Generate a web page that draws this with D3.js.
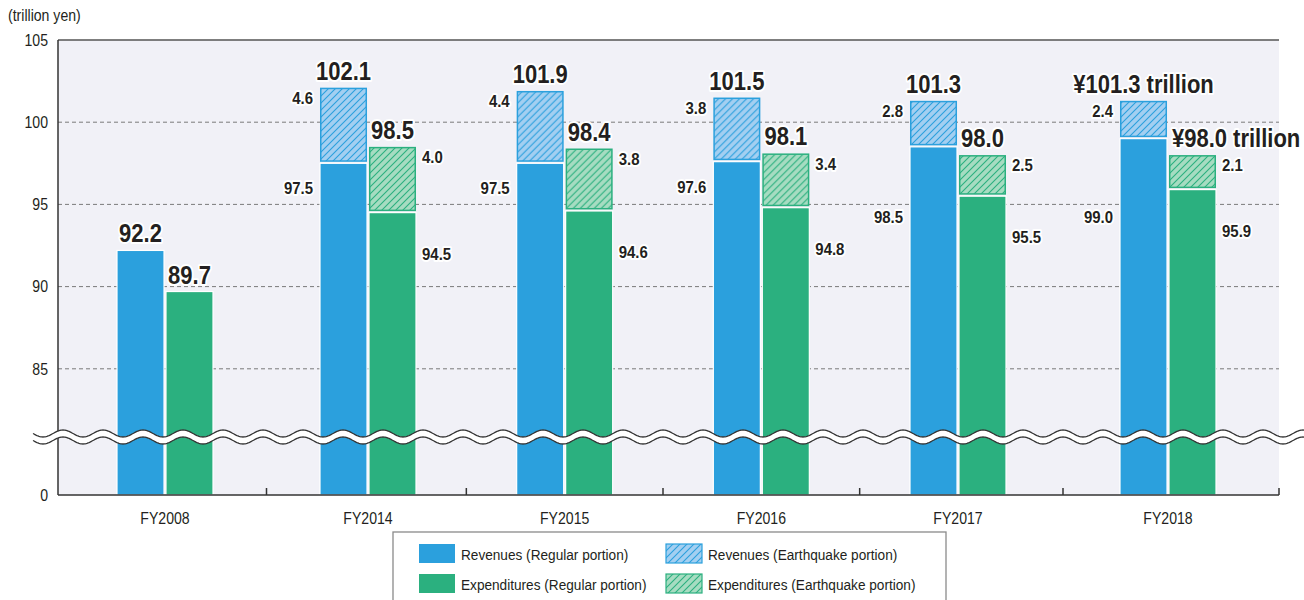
<!DOCTYPE html>
<html>
<head>
<meta charset="utf-8">
<script src="https://cdn.jsdelivr.net/npm/d3@7"></script>
<style>
    body { margin: 0; background: #ffffff; }
    #chart { width: 1304px; height: 600px; }
    text { font-family: "Liberation Sans", Arial, sans-serif; fill: #231f20; }
    .halo { paint-order: stroke; stroke: #ffffff; stroke-width: 4px; stroke-linejoin: round; }
</style>
</head>
<body>
<div id="chart"></div>
<script>

// data (trillion yen)
const years = ["FY2008", "FY2014", "FY2015", "FY2016", "FY2017", "FY2018"]
const revRegular = [92.2, 97.5, 97.5, 97.6, 98.5, 99.0]
const revQuake = [0, 4.6, 4.4, 3.8, 2.8, 2.4]
const revTotal = [92.2, 102.1, 101.9, 101.5, 101.3, 101.3]
const expRegular = [89.7, 94.5, 94.6, 94.8, 95.5, 95.9]
const expQuake = [0, 4.0, 3.8, 3.4, 2.5, 2.1]
const expTotal = [89.7, 98.5, 98.4, 98.1, 98.0, 98.0]
const yTicks = [0, 85, 90, 95, 100, 105]
const legendLabels = ["Revenues (Regular portion)", "Revenues (Earthquake portion)",
    "Expenditures (Regular portion)", "Expenditures (Earthquake portion)"]

// horizontal squeeze to mimic the condensed typeface of the original
const SX = 0.88


class FiscalChart {

    constructor(parentElement) {
        this.parentElement = parentElement

        this.colors = {
            rev: "#2ba0dd",
            revLight: "#a3cff1",
            exp: "#2bb07f",
            expLight: "#a6dcc1"
        }

        this.initVis()
    }

    initVis() {
        let vis = this

        vis.left = 58
        vis.right = 1279
        vis.top = 40
        vis.bottom = 495

        vis.svg = d3.select("#" + vis.parentElement).append("svg")
            .attr("width", 1304)
            .attr("height", 600)

        // hatch patterns for the earthquake portions
        let defs = vis.svg.append("defs")
        ;[["hatchRev", vis.colors.revLight, vis.colors.rev],
          ["hatchExp", vis.colors.expLight, vis.colors.exp]].forEach(p => {
            let pat = defs.append("pattern")
                .attr("id", p[0])
                .attr("patternUnits", "userSpaceOnUse")
                .attr("width", 7)
                .attr("height", 7)
            pat.append("rect").attr("width", 7).attr("height", 7).attr("fill", p[1])
            pat.append("path")
                .attr("d", "M-1,1 l2,-2 M0,7 l7,-7 M6,8 l2,-2")
                .attr("stroke", p[2])
                .attr("stroke-width", 1.1)
        })

        // broken value axis: 0 sits below the break, 85..105 above it
        vis.y = d3.scaleLinear()
            .domain([0, 80, 105])
            .range([vis.bottom, 451, vis.top])

        // category centres (end bands are wider in the original)
        vis.xIdx = d3.scaleLinear()
            .domain([0, 1, 4, 5])
            .range([165, 368, 958, 1168])
        vis.x = d => vis.xIdx(years.indexOf(d))

        vis.sub = d3.scaleBand()
            .domain(["rev", "exp"])
            .range([-48, 48])
            .paddingInner(0.04)

        vis.wrangleData()
    }

    wrangleData() {
        let vis = this

        vis.data = years.map((yr, i) => ({
            year: yr,
            last: i === years.length - 1,
            rev: {key: "rev", regular: revRegular[i], quake: revQuake[i], total: revTotal[i]},
            exp: {key: "exp", regular: expRegular[i], quake: expQuake[i], total: expTotal[i]}
        }))

        vis.updateVis()
    }

    // put a text at (x, y) and squeeze it sideways
    place(sel, fx, fy) {
        return sel.attr("transform", (d, i) => `translate(${fx(d, i)},${fy(d, i)}) scale(${SX},1)`)
    }

    updateVis() {
        let vis = this
        let y = vis.y
        let bw = vis.sub.bandwidth()

        // plot background
        vis.svg.append("rect")
            .attr("x", vis.left)
            .attr("y", vis.top)
            .attr("width", vis.right - vis.left)
            .attr("height", vis.bottom - vis.top)
            .attr("fill", "#f1f1f7")

        // dashed grid lines
        vis.svg.append("g").selectAll("line")
            .data(yTicks.filter(t => t > 0 && t < 105))
            .enter().append("line")
            .attr("x1", vis.left).attr("x2", vis.right)
            .attr("y1", d => y(d)).attr("y2", d => y(d))
            .attr("stroke", "#7a7a7a")
            .attr("stroke-width", 1)
            .attr("stroke-dasharray", "4,3")

        // bars
        let groups = vis.svg.selectAll(".barGroup")
            .data(vis.data)
            .enter().append("g")
            .attr("class", "barGroup")
            .attr("transform", d => `translate(${vis.x(d.year)},0)`)

        let series = groups.selectAll(".series")
            .data(d => [d.rev, d.exp])
            .enter().append("g")
            .attr("class", "series")

        series.append("rect")
            .attr("x", d => vis.sub(d.key))
            .attr("y", d => y(d.regular))
            .attr("width", bw)
            .attr("height", d => vis.bottom - y(d.regular))
            .attr("fill", d => vis.colors[d.key])
            .attr("stroke", "#ffffff")
            .attr("stroke-width", 1.2)

        series.filter(d => d.quake > 0).append("rect")
            .attr("x", d => vis.sub(d.key) + 0.75)
            .attr("y", d => y(d.total) + 0.75)
            .attr("width", bw - 1.5)
            .attr("height", d => y(d.regular) - y(d.total) - 3)
            .attr("fill", d => d.key === "rev" ? "url(#hatchRev)" : "url(#hatchExp)")
            .attr("stroke", d => vis.colors[d.key])
            .attr("stroke-width", 1.5)

        // axis lines
        vis.svg.append("line")
            .attr("x1", vis.left).attr("x2", vis.right)
            .attr("y1", vis.top).attr("y2", vis.top)
            .attr("stroke", "#555").attr("stroke-width", 1.3)
        vis.svg.append("line")
            .attr("x1", vis.left).attr("x2", vis.left)
            .attr("y1", vis.top).attr("y2", vis.bottom)
            .attr("stroke", "#333").attr("stroke-width", 1.5)
        vis.svg.append("line")
            .attr("x1", vis.left).attr("x2", vis.right)
            .attr("y1", vis.bottom).attr("y2", vis.bottom)
            .attr("stroke", "#333").attr("stroke-width", 1.5)

        // category separators on the bottom axis
        let seps = d3.range(years.length - 1).map(i => vis.xIdx(i + 0.5)).concat([vis.right])
        vis.svg.append("g").selectAll("line")
            .data(seps)
            .enter().append("line")
            .attr("x1", d => d).attr("x2", d => d)
            .attr("y1", vis.bottom).attr("y2", vis.bottom - 7)
            .attr("stroke", "#333").attr("stroke-width", 1.5)

        // y tick labels
        vis.place(vis.svg.append("g").selectAll("text")
            .data(yTicks)
            .enter().append("text"), () => 48, d => y(d))
            .attr("dy", "0.36em")
            .attr("text-anchor", "end")
            .style("font-size", "16px")
            .text(d => d)

        vis.place(vis.svg.append("text").datum(0), () => 8, () => 21)
            .style("font-size", "16px")
            .text("(trillion yen)")

        // x labels
        vis.place(vis.svg.append("g").selectAll("text")
            .data(years)
            .enter().append("text"), d => vis.x(d), () => 524)
            .attr("text-anchor", "middle")
            .style("font-size", "16px")
            .text(d => d)

        // value labels
        let labels = groups.append("g")

        // totals above each bar
        vis.place(labels.selectAll(".total")
            .data(d => [d.rev, d.exp].map(s => Object.assign({last: d.last}, s)))
            .enter().append("text"),
            d => (d.last && d.key === "exp") ? vis.sub(d.key) + 3 : vis.sub(d.key) + bw / 2,
            d => y(d.total) - 17)
            .attr("class", "total halo")
            .attr("dy", "0.36em")
            .attr("text-anchor", d => (d.last && d.key === "exp") ? "start" : "middle")
            .style("font-size", "25px")
            .style("font-weight", "bold")
            .text(d => d.last ? `¥${d.total.toFixed(1)} trillion` : d.total.toFixed(1))

        let split = labels.filter(d => d.rev.quake > 0)
        let sideX = d => d.key === "rev" ? vis.sub("rev") - 7 : vis.sub("exp") + bw + 6

        // earthquake portions
        vis.place(split.selectAll(".quake")
            .data(d => [d.rev, d.exp])
            .enter().append("text"), sideX, d => y(d.total) + 10)
            .attr("class", "quake halo")
            .attr("dy", "0.36em")
            .attr("text-anchor", d => d.key === "rev" ? "end" : "start")
            .style("font-size", "17px")
            .style("font-weight", "bold")
            .text(d => d.quake.toFixed(1))

        // regular portions
        vis.place(split.selectAll(".regular")
            .data(d => [d.rev, d.exp])
            .enter().append("text"), sideX, d => {
                if (d.key === "exp") return y(d.regular) + 41
                return d.regular >= 98 ? y(95) + 12 : y(d.regular) + 25
            })
            .attr("class", "regular halo")
            .attr("dy", "0.36em")
            .attr("text-anchor", d => d.key === "rev" ? "end" : "start")
            .style("font-size", "17px")
            .style("font-weight", "bold")
            .text(d => d.regular.toFixed(1))

        vis.drawBreak()
        vis.drawLegend()
    }

    drawBreak() {
        let vis = this
        let cy = 437, amp = 3.5, half = 3.5, period = 40
        let pts = d3.range(33, 1305, 1).map(x => [x, cy + amp * Math.sin(2 * Math.PI * (x - 33) / period)])

        vis.svg.append("path")
            .datum(pts)
            .attr("d", d3.area().x(d => d[0]).y0(d => d[1] - half).y1(d => d[1] + half))
            .attr("fill", "#ffffff")

        ;[-half, half].forEach(off => {
            vis.svg.append("path")
                .datum(pts)
                .attr("d", d3.line().x(d => d[0]).y(d => d[1] + off))
                .attr("fill", "none")
                .attr("stroke", "#333")
                .attr("stroke-width", 1.3)
        })
    }

    drawLegend() {
        let vis = this

        let legend = vis.svg.append("g")
        legend.append("rect")
            .attr("x", 393).attr("y", 532)
            .attr("width", 553).attr("height", 80)
            .attr("fill", "#ffffff")
            .attr("stroke", "#8a8a8a")
            .attr("stroke-width", 1.3)

        let fills = [vis.colors.rev, "url(#hatchRev)", vis.colors.exp, "url(#hatchExp)"]
        let strokes = [null, vis.colors.rev, null, vis.colors.exp]

        let items = legend.selectAll(".item")
            .data(legendLabels)
            .enter().append("g")
            .attr("class", "item")
            .attr("transform", (d, i) => `translate(${i % 2 ? 666 : 419},${i < 2 ? 544 : 574})`)

        items.append("rect")
            .attr("width", 36).attr("height", 19)
            .attr("fill", (d, i) => fills[i])
            .attr("stroke", (d, i) => strokes[i])
            .attr("stroke-width", 1.2)

        vis.place(items.append("text"), () => 42, () => 10)
            .attr("dy", "0.36em")
            .style("font-size", "15.5px")
            .text(d => d)
    }
}

new FiscalChart("chart")

</script>
</body>
</html>
